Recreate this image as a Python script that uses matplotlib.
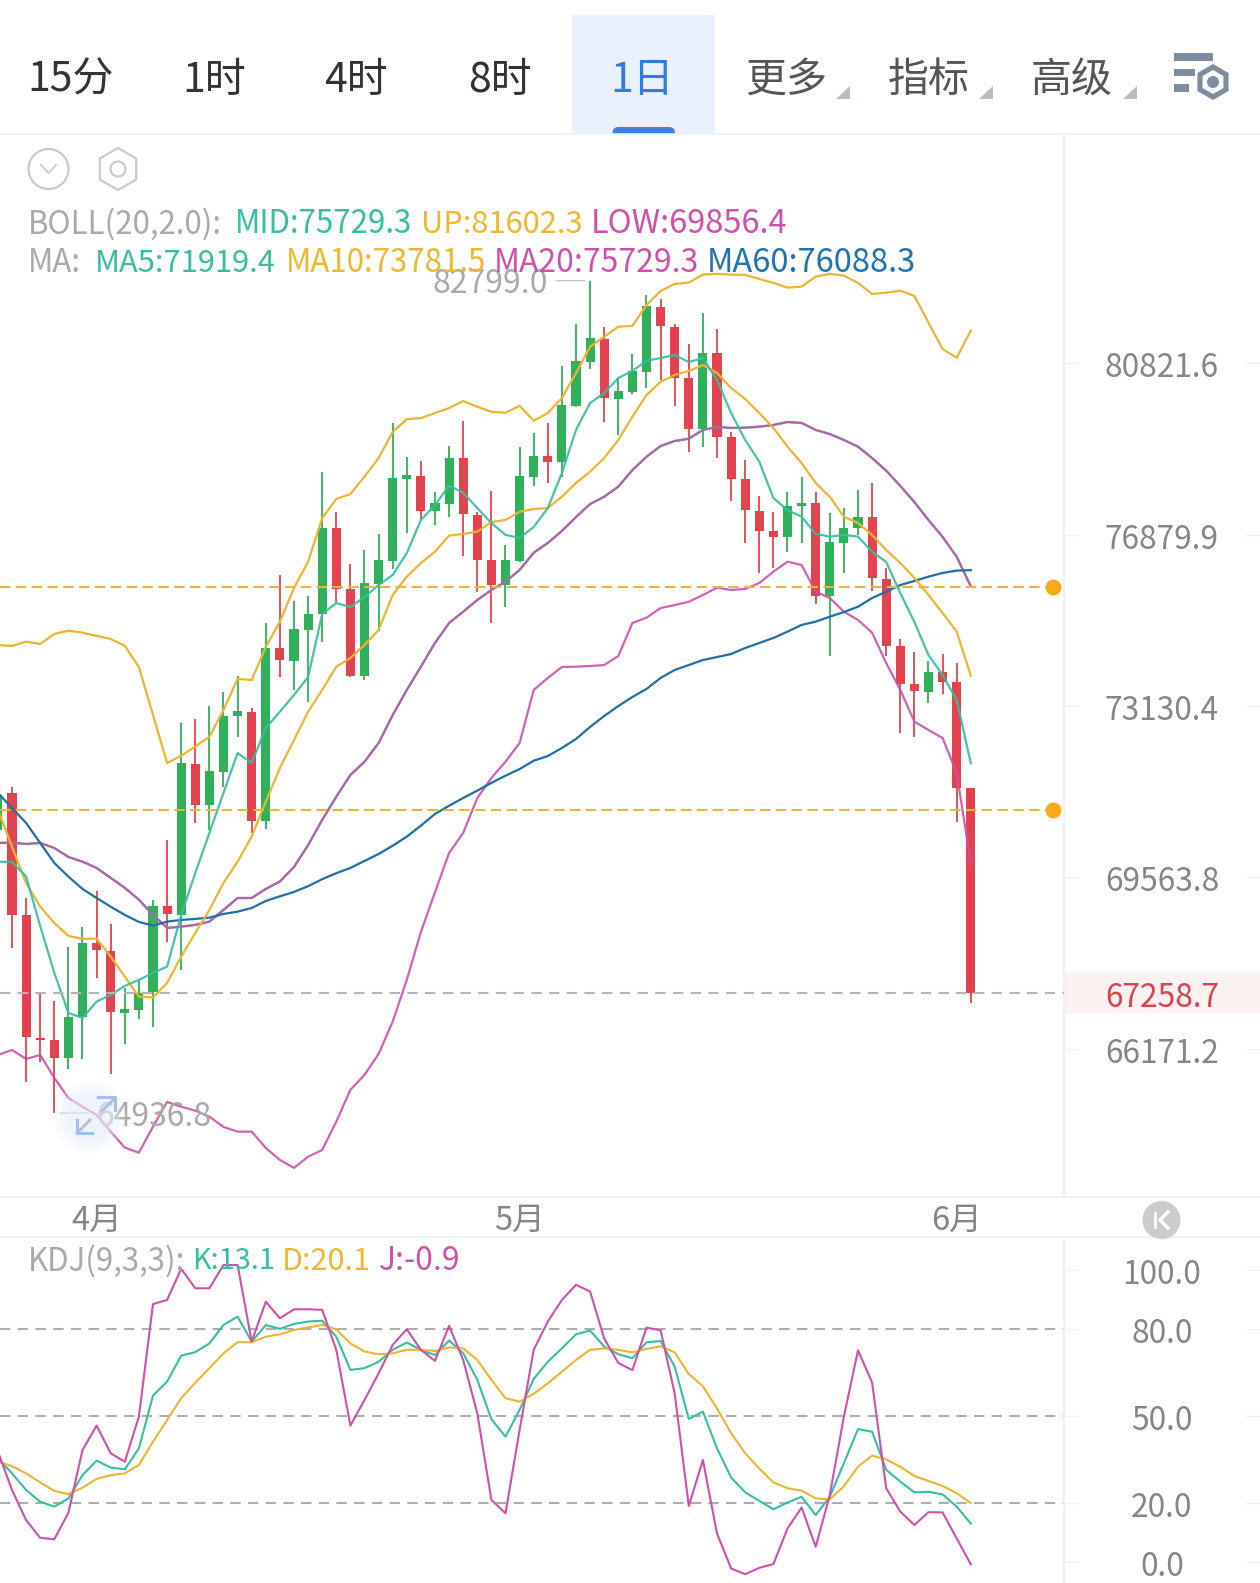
import matplotlib
matplotlib.use("Agg")
import numpy as np
import matplotlib.pyplot as plt
from matplotlib.patches import Rectangle, Circle, RegularPolygon, Polygon, FancyBboxPatch
from matplotlib.ticker import NullLocator, NullFormatter
from matplotlib.transforms import ScaledTranslation

plt.rcParams['font.family'] = ['Noto Sans CJK SC', 'DejaVu Sans']

# Daily candles, oldest first
opens = [70530, 71300, 68800, 66380, 66340, 65990, 66790, 68240, 68090, 66870,
         66920, 67280, 68990, 68800, 71900, 71050, 71740, 72920, 73010, 70720,
         74380, 74100, 74770, 75120, 77030, 75670, 73780, 75780, 76290, 78140,
         78220, 77410, 77570, 78620, 77320, 76320, 75760, 76290, 78190, 78670,
         78540, 79820, 80860, 81400, 79990, 80160, 80630, 82170, 81690, 80480,
         79290, 81070, 79110, 78140, 77420, 76960, 76820, 77530, 77590, 75520,
         76700, 77030, 77290, 75900, 74430, 73600, 73440, 73860, 73650, 71410]
closes = [71260, 68800, 66390, 66340, 65990, 66790, 68250, 68100, 66880, 66940,
          67260, 68990, 68820, 71920, 71050, 71760, 72920, 73020, 70720, 74390,
          74120, 74800, 75120, 77030, 75670, 73780, 75810, 76320, 78160, 78230,
          77420, 77590, 78630, 77350, 76320, 75760, 76320, 78210, 78670, 78540,
          79850, 80890, 81430, 80010, 80170, 80640, 82190, 81710, 80480, 79290,
          81080, 79110, 78140, 77440, 76970, 76820, 77530, 77590, 75520, 76720,
          77040, 77290, 75920, 74430, 73600, 73450, 73870, 73650, 71410, 67258.7]
highs = [71570, 71420, 69150, 67260, 67100, 68160, 68560, 69290, 68620, 67350,
         67530, 69110, 70330, 72770, 72850, 73130, 73430, 73780, 73090, 74930,
         75980, 75410, 75520, 78300, 77390, 76230, 76540, 76900, 79430, 78640,
         78550, 77850, 78900, 79480, 77400, 77870, 76650, 78880, 79200, 79430,
         80750, 81760, 82799.0, 81690, 80480, 81040, 82450, 82360, 81760, 81280,
         82020, 81640, 79220, 78580, 77760, 77390, 77850, 78190, 77850, 77370,
         77490, 77880, 78050, 76140, 74580, 74290, 74100, 74250, 74060, 71410]
lows = [70370, 68140, 65530, 65910, 64936.8, 65780, 65970, 67550, 65690, 66260,
        66750, 66590, 68270, 67710, 70680, 70530, 71420, 72480, 70470, 70550,
        73760, 73470, 73220, 74500, 75390, 73750, 73690, 74740, 76120, 76920,
        77230, 77100, 77290, 76410, 75610, 74930, 75270, 76280, 77990, 78060,
        78190, 79800, 80690, 79460, 79140, 80100, 80250, 80430, 79820, 78770,
        78880, 78620, 77640, 76700, 76030, 76140, 76490, 76700, 75340, 74210,
        76030, 76880, 75630, 74210, 72560, 72480, 73200, 73390, 70700, 67060]

# Moving averages
ma5 = [69880, 69880, 69578, 68584, 67650, 66864, 66767, 67085, 67217, 67394,
       67512, 67650, 67774, 68804, 69653, 70471, 71299, 72133, 71924, 72664,
       73009, 73367, 73753, 75122, 75362, 75274, 75495, 75760, 75983, 76470,
       77211, 77549, 77989, 77829, 77481, 77143, 76876, 76808, 77053, 77481,
       78278, 79268, 79893, 80126, 80479, 80644, 80886, 80948, 81020, 80855,
       80948, 80432, 79660, 79036, 78536, 77708, 77436, 77285, 76898, 76837,
       76876, 76837, 76500, 76270, 75583, 74947, 74227, 73796, 73259, 71919.4]
ma10 = [70945, 70190, 69450, 68970, 68644, 68384, 68324, 68330, 67971, 67577,
        67182, 67168, 67453, 67971, 68444, 68904, 69450, 69882, 70398, 71117,
        71819, 72409, 73009, 73474, 73975, 74162, 74446, 74773, 75539, 75945,
        76248, 76500, 76860, 76898, 76950, 77166, 77211, 77398, 77459, 77481,
        77738, 78050, 78308, 78620, 79036, 79575, 80079, 80392, 80550, 80644,
        80785, 80597, 80245, 79986, 79660, 79314, 78881, 78506, 78050, 77738,
        77285, 77143, 76876, 76538, 76248, 75917, 75539, 75144, 74736, 73781.5]
ma20 = [70265, 70271, 70244, 70265, 70162, 69978, 69882, 69754, 69551, 69351,
        69110, 68804, 68544, 68570, 68604, 68670, 68904, 69145, 69145, 69328,
        69480, 69775, 70220, 70739, 71221, 71673, 71951, 72345, 72939, 73474,
        73975, 74490, 74925, 75172, 75429, 75650, 75833, 76094, 76477, 76696,
        76966, 77278, 77572, 77738, 77966, 78347, 78650, 78897, 79012, 79065,
        79268, 79337, 79314, 79321, 79344, 79383, 79452, 79429, 79268, 79174,
        79036, 78881, 78620, 78331, 77982, 77617, 77211, 76831, 76387, 75729.3]
ma60 = [71299, 70986, 70677, 70265, 69856, 69578, 69328, 69145, 68970, 68804,
        68664, 68590, 68670, 68704, 68724, 68750, 68824, 68870, 68944, 69085,
        69179, 69268, 69384, 69526, 69648, 69754, 69897, 70039, 70209, 70395,
        70621, 70862, 71033, 71194, 71347, 71508, 71658, 71798, 71972, 72070,
        72240, 72430, 72685, 72918, 73130, 73324, 73496, 73732, 73904, 74011,
        74119, 74183, 74249, 74380, 74488, 74598, 74736, 74882, 74954, 75063,
        75165, 75281, 75473, 75613, 75760, 75849, 75945, 76027, 76080, 76088.3]

# Bollinger bands; the middle band equals the 20-day average
boll_up = [74446, 74425, 74517, 74467, 74686, 74758, 74714, 74642, 74576, 74425,
           73968, 72939, 71924, 72076, 72269, 72479, 73045, 73711, 73689, 74403,
           74954, 75696, 76277, 77256, 77686, 77800, 78194, 78620, 79221, 79519,
           79542, 79660, 79775, 79940, 79806, 79690, 79667, 79829, 79482, 79660,
           80009, 80597, 81217, 81455, 81694, 81711, 82211, 82550, 82720, 82751,
           82945, 82963, 82945, 82937, 82840, 82744, 82630, 82654, 82896, 82963,
           82920, 82744, 82477, 82509, 82557, 82429, 81790, 81163, 80956, 81602.3]
boll_low = [66048, 66145, 65972, 66048, 65609, 65225, 65059, 64902, 64587, 64286,
            64191, 64681, 65148, 65059, 64983, 64870, 64675, 64587, 64587, 64280,
            64055, 63906, 64116, 64242, 64775, 65380, 65666, 66068, 66695, 67512,
            68464, 69262, 70060, 70471, 71194, 71610, 71951, 72345, 73474, 73732,
            73968, 73975, 73990, 74011, 74205, 74925, 75041, 75252, 75318, 75391,
            75539, 75700, 75650, 75672, 75805, 76055, 76277, 76204, 75613, 75473,
            75172, 74990, 74714, 74054, 73474, 72797, 72621, 72452, 71715, 69856.4]

# KDJ oscillator
kdj_k = [35.5, 30.3, 24.6, 20.6, 18.9, 21.7, 29.7, 34.7, 32.3, 31.7,
         38.9, 57.0, 61.8, 70.7, 71.9, 74.9, 81.2, 84.1, 75.5, 81.2,
         79.9, 81.6, 82.4, 82.7, 77.2, 65.8, 66.4, 68.6, 72.7, 75.2,
         72.7, 70.9, 75.9, 71.5, 62.4, 48.9, 42.9, 52.1, 62.7, 68.6,
         73.2, 78.0, 79.3, 73.8, 71.2, 69.8, 75.3, 75.7, 66.9, 49.0,
         51.5, 38.9, 28.9, 23.8, 20.9, 18.0, 20.3, 22.3, 16.0, 22.3,
         33.8, 45.5, 44.6, 31.5, 27.5, 23.8, 24.0, 23.1, 18.9, 13.1]
kdj_d = [34.3, 32.8, 30.3, 27.2, 24.3, 23.2, 25.4, 28.4, 29.7, 30.3,
         33.2, 41.2, 48.6, 56.1, 61.4, 66.4, 71.5, 75.3, 75.3, 77.2,
         78.0, 79.5, 80.4, 81.2, 79.7, 74.9, 72.1, 71.2, 71.5, 72.7,
         72.7, 72.3, 73.5, 73.2, 69.2, 62.4, 56.1, 54.9, 57.6, 61.2,
         65.2, 69.2, 72.7, 73.2, 72.7, 71.8, 73.0, 73.9, 71.8, 64.4,
         60.2, 52.6, 44.1, 37.2, 32.0, 27.2, 25.2, 24.4, 21.7, 21.4,
         25.9, 32.6, 36.4, 35.1, 32.6, 29.4, 27.7, 26.0, 23.5, 20.1]
kdj_j = [37.8, 24.6, 14.3, 8.2, 7.7, 16.8, 38.3, 46.7, 37.2, 34.3,
         49.8, 88.4, 89.8, 100.5, 93.8, 93.8, 101.8, 101.8, 75.5, 89.2,
         83.5, 86.6, 86.6, 86.4, 72.7, 46.7, 55.5, 64.6, 74.4, 79.8,
         72.7, 68.9, 80.9, 69.2, 50.9, 21.2, 16.6, 45.2, 72.7, 82.4,
         89.8, 95.0, 92.7, 76.6, 68.2, 65.7, 80.3, 79.4, 57.7, 19.1,
         34.9, 9.7, -2.3, -4.3, -2.1, -0.8, 11.4, 18.6, 5.1, 22.9,
         49.8, 72.5, 61.5, 25.2, 17.2, 12.6, 17.0, 16.9, 8.0, -0.9]

first_bar = -1
price_ticks = [80821.6, 76879.9, 73130.4, 69563.8, 66171.2]
kdj_ticks = [100.0, 80.0, 50.0, 20.0, 0.0]
kdj_guides = [80.0, 50.0, 20.0]
alert_levels = [75725, 70945]
last_price = 67258.7
month_bars = [6, 36, 67]
month_labels = ['4月', '5月', '6月']
timeframes = ['15分', '1时', '4时', '8时', '1日', '更多', '指标', '高级']

RED, GREEN = '#E2434F', '#2FB15B'
TEAL, YELLOW, MAGENTA, BLUE = '#35BFA2', '#EDB52F', '#CF4FAA', '#1F6EA6'
LABEL_GRAY, AXIS_GRAY, RULE = '#A9A9A9', '#858585', '#F0F0F0'

W, H = 1260, 1583
PANEL_R = 1064
TICK_SIZE = 22.8
LEGEND_SIZE = 22.5
fig = plt.figure(figsize=(W / 100, H / 100), dpi=100, facecolor='white')


def panel(top, bottom):
    a = fig.add_axes([0, 1 - bottom / H, PANEL_R / W, (bottom - top) / H])
    a.patch.set_alpha(0)
    a.set_xlim(-0.851, 74.61)
    for side in ('top', 'left', 'bottom'):
        a.spines[side].set_visible(False)
    a.spines['right'].set_color(RULE)
    a.spines['right'].set_linewidth(1.4)
    return a


def style_value_axis(a):
    a.yaxis.tick_right()
    a.tick_params(axis='y', which='major', length=10, width=1, color=RULE,
                  labelcolor=AXIS_GRAY, labelsize=TICK_SIZE, pad=60.5)
    nudge = ScaledTranslation(0, -1.5 / 100, fig.dpi_scale_trans)
    for t in a.get_yticklabels():
        t.set_ha('center')
        t.set_transform(t.get_transform() + nudge)


bg = fig.add_axes([0, 0, 1, 1], zorder=0)
bg.set_xlim(0, W)
bg.set_ylim(H, 0)
bg.axis('off')
fg = fig.add_axes([0, 0, 1, 1], zorder=5)
fg.set_xlim(0, W)
fg.set_ylim(H, 0)
fg.axis('off')
fg.patch.set_alpha(0)

ax = panel(134, 1197)
ax.set_zorder(2)
kd = panel(1237, 1583)
kd.set_zorder(2)

# Price panel
bars = np.arange(len(closes)) + first_bar
ax.set_yscale('log')
ax.set_ylim(63366, 86420)
o, c = np.array(opens, float), np.array(closes, float)
colors = [GREEN if cl >= op else RED for op, cl in zip(o, c)]
ax.vlines(bars, lows, highs, colors=colors, linewidth=1.3, zorder=2)
ax.bar(bars, np.abs(c - o), bottom=np.minimum(o, c), width=0.64, color=colors, zorder=3)

line_kw = dict(linewidth=1.6, zorder=4, solid_joinstyle='round')
ax.plot(bars, boll_up, color=YELLOW, **line_kw)
ax.plot(bars, boll_low, color=MAGENTA, alpha=0.9, **line_kw)
ax.plot(bars, ma20, color=TEAL, **line_kw)
ax.plot(bars, ma20, color=MAGENTA, alpha=0.82, **line_kw)
ax.plot(bars, ma60, color=BLUE, **line_kw)
ax.plot(bars, ma10, color=YELLOW, **line_kw)
ax.plot(bars, ma5, color=TEAL, alpha=0.92, **line_kw)

for level in alert_levels:
    ax.plot([0, 1053 / PANEL_R], [level, level], transform=ax.get_yaxis_transform(),
            color='#E6B640', lw=1.5, ls=(0, (5, 2.6)), zorder=5)
    ax.plot([1053 / PANEL_R], [level], 'o', transform=ax.get_yaxis_transform(),
            color='#FBA919', ms=11.5, mew=0, clip_on=False, zorder=6)
ax.axhline(last_price, color='#B4B4B4', lw=1.5, ls=(0, (5, 3.5)), zorder=5)

ax.yaxis.set_minor_locator(NullLocator())
ax.yaxis.set_minor_formatter(NullFormatter())
ax.set_yticks(price_ticks, [f'{t:.1f}' for t in price_ticks])
style_value_axis(ax)
ax.set_xticks(month_bars, month_labels)
ax.tick_params(axis='x', length=0, labelsize=23.5, labelcolor=AXIS_GRAY, pad=6)

# Latest price tag on the axis
bg.add_patch(Rectangle((PANEL_R, 972), W - PANEL_R, 41, color='#FDF1F1', lw=0))
ax.annotate(f'{last_price:.1f}', xy=(1162 / PANEL_R, last_price),
            xycoords=ax.get_yaxis_transform(), xytext=(0, -5), textcoords='offset pixels',
            ha='center', va='center', fontsize=TICK_SIZE, color='#D9434F', annotation_clip=False)

# Extreme labels with their short leaders
hi_i, lo_i = int(np.argmax(highs)), int(np.argmin(lows))
for i, val, sign, drop in ((hi_i, highs[hi_i], -1, -3), (lo_i, lows[lo_i], 1, -4)):
    xy = (bars[i], val)
    ax.annotate('', xy=xy, xytext=(sign * 34, 0), textcoords='offset pixels',
                arrowprops=dict(arrowstyle='-', color='#C4C4C4', lw=1.0, shrinkA=0, shrinkB=4),
                annotation_clip=False, zorder=7)
    ax.annotate(f'{val:.1f}', xy=xy, xytext=(sign * 42, drop),
                textcoords='offset pixels', ha='left' if sign > 0 else 'right', va='center',
                fontsize=23, color=LABEL_GRAY, annotation_clip=False, zorder=7)

# KDJ panel
kd.set_ylim(-7.3, 111.4)
kd.set_xticks([])
for g in kdj_guides:
    kd.axhline(g, color='#ADADAD', lw=1.5, ls=(0, (5, 3.5)), zorder=1)
kd.plot(bars, kdj_k, color=TEAL, lw=1.5, zorder=3)
kd.plot(bars, kdj_d, color=YELLOW, lw=1.5, zorder=3)
kd.plot(bars, kdj_j, color=MAGENTA, lw=1.5, zorder=3)
kd.set_yticks(kdj_ticks, [f'{t:.1f}' for t in kdj_ticks])
style_value_axis(kd)

# Rules around the panels
for y in (134, 1197, 1237):
    bg.plot([0, W], [y, y], color=RULE, lw=1.2)
for y in [363, 535, 706, 877, 1049, 1270.3, 1328.7, 1416.3, 1503.3, 1561.7]:
    bg.plot([1246, W], [y, y], color=RULE, lw=1.0)

# Timeframe tab bar
bg.add_patch(Rectangle((572, 15), 143, 119, color='#E8F1FC', lw=0))
pill = FancyBboxPatch((612.5, 127), 62.5, 16, boxstyle='round,pad=0,rounding_size=6',
                      color='#3B7FE0', lw=0)
bg.add_patch(pill)
pill.set_clip_path(Rectangle((600, 120), 90, 14, transform=bg.transData))
tab_x = [71, 214, 356, 500, 642, 786, 929, 1072]
tab_color = ['#333333'] * 4 + ['#2E7BE6'] + ['#555555'] * 3
for x, s, col in zip(tab_x, timeframes, tab_color):
    fg.text(x, 80, s, ha='center', va='center', fontsize=29.5, color=col)
for x in (850, 993, 1137):
    fg.add_patch(Polygon([(x, 86), (x, 99), (x - 14, 99)], color='#B8BCC4', lw=0))

# Settings glyph at the end of the bar
ICON = '#7E8CA0'
for x0, x1, y0, y1 in ((1174, 1213, 53, 61), (1174, 1195, 69, 76), (1174, 1189, 84, 92)):
    fg.add_patch(Rectangle((x0, y0), x1 - x0, y1 - y0, color=ICON, lw=0))
fg.add_patch(RegularPolygon((1213, 82), 6, radius=18, color=ICON, lw=0))
fg.add_patch(RegularPolygon((1213, 82), 6, radius=12, color='white', lw=0))
fg.add_patch(Circle((1213, 82), 6, color=ICON, lw=0))

# Collapse and settings glyphs over the price panel
fg.add_patch(Circle((48.5, 169), 20, fill=False, edgecolor='#C9C9C9', lw=1.6))
fg.plot([41, 48.5, 56], [165, 173, 165], color='#C9C9C9', lw=1.3)
fg.add_patch(RegularPolygon((118, 169), 6, radius=21, fill=False, edgecolor='#C9C9C9', lw=1.6))
fg.add_patch(Circle((118, 169), 7.5, fill=False, edgecolor='#C9C9C9', lw=1.6))


def legend(y, parts):
    for x, s, col, size in parts:
        fg.text(x, y, s, ha='left', va='center', fontsize=size, color=col)


legend(224, [(28, 'BOLL(20,2.0):', LABEL_GRAY, 22.5), (235, f'MID:{ma20[-1]:.1f}', TEAL, 22.5),
             (421, f'UP:{boll_up[-1]:.1f}', '#F0B72E', 22.2), (591, f'LOW:{boll_low[-1]:.1f}', MAGENTA, 23.4)])
legend(263, [(28, 'MA:', LABEL_GRAY, 22.5), (95, f'MA5:{ma5[-1]:.1f}', TEAL, 22.2),
             (286, f'MA10:{ma10[-1]:.1f}', '#F0B72E', 22.5), (494, f'MA20:{ma20[-1]:.1f}', MAGENTA, 23),
             (707, f'MA60:{ma60[-1]:.1f}', '#1F74B0', 23.5)])
legend(1261, [(28, 'KDJ(9,3,3):', LABEL_GRAY, 22.5), (192, f'K:{kdj_k[-1]:.1f}', TEAL, 20.8),
              (282, f'D:{kdj_d[-1]:.1f}', '#F0B72E', 22), (379, f'J:{kdj_j[-1]:.1f}', MAGENTA, 23)])

# Zoom toggle floating over the lower left of the price panel
for r, a in ((36, 0.2), (30, 0.28), (24, 0.35)):
    fg.add_patch(Circle((90, 1117), r, color='#E6EEFB', alpha=a, lw=0))
ARROW = '#A9BEE6'
fg.plot([115, 102], [1098, 1111], color=ARROW, lw=2)
fg.plot([98, 115, 115], [1097, 1097, 1110], color=ARROW, lw=2.2)
fg.plot([77, 90], [1133, 1120], color=ARROW, lw=2)
fg.plot([77, 77, 92], [1120, 1133, 1133], color=ARROW, lw=2.2)

# Jump-to-latest button on the axis band
fg.add_patch(Circle((1161.5, 1220), 19, color='#CBCCCE', lw=0))
fg.plot([1155, 1155], [1213, 1227], color='white', lw=2)
fg.plot([1168, 1160, 1168], [1212, 1220, 1228], color='white', lw=2.4)

fig.savefig('out.png', dpi=100, facecolor='white')
